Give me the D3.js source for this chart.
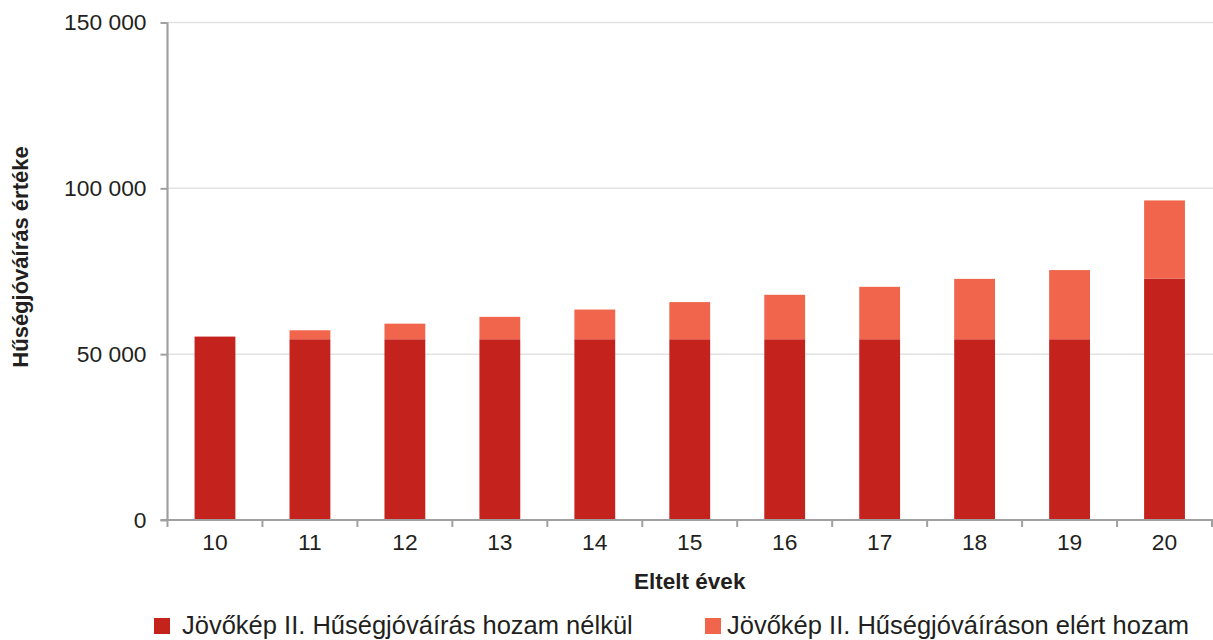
<!DOCTYPE html>
<html><head><meta charset="utf-8">
<script src="https://cdn.jsdelivr.net/npm/d3@7"></script>
<style>body{margin:0;background:#fff}svg{display:block;font-family:"Liberation Sans",Arial,sans-serif}</style>
</head><body><svg id="c" width="1213" height="640"></svg>
<script>
const categories = ["10","11","12","13","14","15","16","17","18","19","20"];
const baseValues = [55300,54500,54500,54500,54500,54500,54500,54500,54500,54500,72800];
const yieldValues = [0,2700,4700,6750,8950,11200,13400,15800,18200,20850,23550];
const yTicks = [0,50000,100000,150000];
const seriesNames = ["Jövőkép II. Hűségjóváírás hozam nélkül","Jövőkép II. Hűségjóváíráson elért hozam"];
const colors = ["#c4221c","#f0654b"];

const svg = d3.select("#c");
const x0 = 167.5, x1 = 1212, yBottom = 520, yTop = 22.5;
const x = d3.scaleBand().domain(categories).range([x0,x1]).paddingInner(0.57).paddingOuter(0.285);
const xb = d3.scaleBand().domain(categories).range([x0,x1]);
const y = d3.scaleLinear().domain([0,150000]).range([yBottom,yTop]);
const fmt = v => d3.format(",")(v).replace(/,/g," ");
const tickFont = 22.8;

// grid
svg.append("g").selectAll("line").data(yTicks.filter(d=>d>0)).join("line")
  .attr("x1",x0).attr("x2",1213).attr("y1",d=>y(d)).attr("y2",d=>y(d))
  .attr("stroke","#e2e2e2").attr("stroke-width",1.5);

// bars
const data = categories.map((c,i)=>({c,b:baseValues[i],h:yieldValues[i]}));
const g = svg.append("g");
g.selectAll(".b").data(data).join("rect")
  .attr("x",d=>x(d.c)).attr("width",x.bandwidth())
  .attr("y",d=>y(d.b)).attr("height",d=>y(0)-y(d.b)).attr("fill",colors[0]);
g.selectAll(".h").data(data.filter(d=>d.h>0)).join("rect")
  .attr("x",d=>x(d.c)).attr("width",x.bandwidth())
  .attr("y",d=>y(d.b+d.h)).attr("height",d=>y(d.b)-y(d.b+d.h)).attr("fill",colors[1]);

// y axis
const ya = svg.append("g").attr("transform",`translate(${x0},0)`)
  .call(d3.axisLeft(y).tickValues(yTicks).tickFormat(fmt).tickSize(7).tickPadding(14));
ya.select(".domain").attr("stroke","#a0a0a0").attr("stroke-width",2.2).attr("d",`M0,${yTop}V${yBottom}`);
ya.selectAll(".tick line").attr("stroke","#a0a0a0").attr("stroke-width",2);
ya.selectAll(".tick text").attr("font-size",tickFont).attr("fill","#231f20").attr("font-family","Liberation Sans, Arial, sans-serif");

// x axis
const xa = svg.append("g").attr("transform",`translate(0,${yBottom})`)
  .call(d3.axisBottom(xb).tickSize(0).tickPadding(14));
xa.select(".domain").attr("stroke","#a0a0a0").attr("stroke-width",2.2).attr("d",`M${x0-7},0H1213`);
xa.selectAll(".tick text").attr("font-size",tickFont).attr("fill","#231f20").attr("font-family","Liberation Sans, Arial, sans-serif");
// tick marks between categories
const bounds = categories.map(c=>xb(c)).concat([x1]);
svg.append("g").selectAll("line").data(bounds).join("line")
  .attr("x1",d=>d).attr("x2",d=>d).attr("y1",yBottom).attr("y2",yBottom+7)
  .attr("stroke","#a0a0a0").attr("stroke-width",2);

// axis titles
svg.append("text").attr("x",(x0+x1)/2).attr("y",589).attr("text-anchor","middle")
  .attr("font-size",22.5).attr("font-weight","bold").attr("fill","#231f20").text("Eltelt évek");
svg.append("text").attr("transform","translate(28,257) rotate(-90)").attr("text-anchor","middle")
  .attr("font-size",22).attr("font-weight","bold").attr("fill","#231f20").text("Hűségjóváírás értéke");

// legend
const leg = [{x:154,tx:182,t:seriesNames[0],c:colors[0]},{x:705,tx:727,t:seriesNames[1],c:colors[1]}];
const lg = svg.append("g").selectAll("g").data(leg).join("g");
lg.append("rect").attr("x",d=>d.x).attr("y",618).attr("width",16).attr("height",16).attr("fill",d=>d.c);
lg.append("text").attr("x",d=>d.tx).attr("y",634).attr("font-size",25.5).attr("fill","#231f20").text(d=>d.t);
</script></body></html>
